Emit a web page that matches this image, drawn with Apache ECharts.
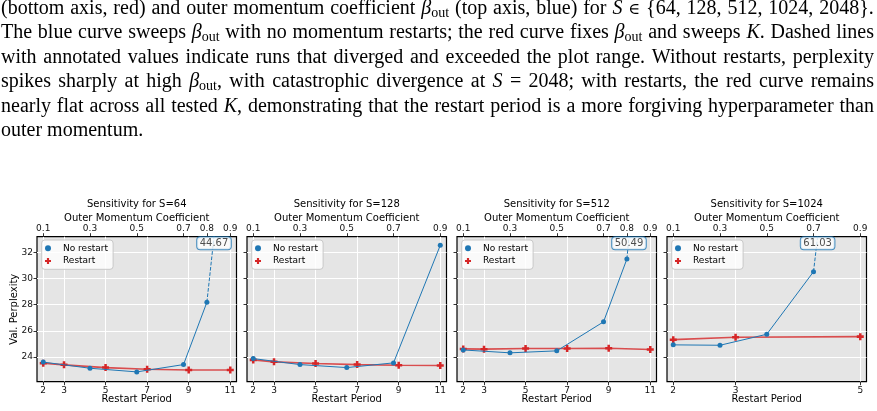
<!DOCTYPE html>
<html>
<head>
<meta charset="utf-8">
<script src="https://cdn.jsdelivr.net/npm/echarts@6/dist/echarts.min.js"></script>
<style>
html,body{margin:0;padding:0;background:#fff;}
#wrap{position:relative;width:877px;height:411px;overflow:hidden;}
#chart{position:absolute;left:0;top:0;width:877px;height:411px;}
#cap{position:absolute;left:1px;top:-5px;width:873px;font-family:'Liberation Serif','Times New Roman',serif;font-size:20px;line-height:24.4px;color:#000;z-index:2;}
#cap .ln{display:flex;justify-content:space-between;white-space:nowrap;height:24.4px;}
#cap .last{white-space:nowrap;height:24.4px;}
#cap i{font-style:italic;}
#cap .sb{font-size:14px;position:relative;top:3px;font-style:normal;}
#cap .op{font-family:'DejaVu Serif',serif;font-size:16px;}
</style>
</head>
<body>
<div id="wrap">
  <div id="chart"></div>
  <div id="cap"></div>
</div>
<script>
// ---------------- caption ----------------
const captionLines = [
  "(bottom axis, red) and outer momentum coefficient β_out (top axis, blue) for $S ∈ {64, 128, 512, 1024, 2048}.",
  "The blue curve sweeps β_out with no momentum restarts; the red curve fixes β_out and sweeps $K. Dashed lines",
  "with annotated values indicate runs that diverged and exceeded the plot range. Without restarts, perplexity",
  "spikes sharply at high β_out, with catastrophic divergence at $S = 2048; with restarts, the red curve remains",
  "nearly flat across all tested $K, demonstrating that the restart period is a more forgiving hyperparameter than",
  "outer momentum."
];

// ---------------- data ----------------
const yMin = 22.1;
const yMax = 33.2;
const yTicks = [24, 26, 28, 30, 32];

const titles = ['Sensitivity for S=64', 'Sensitivity for S=128', 'Sensitivity for S=512', 'Sensitivity for S=1024'];

const beta64 = [0.1, 0.3, 0.5, 0.7, 0.8, 0.9];
const noRestart64 = [23.60, 23.13, 22.85, 23.41, 28.18, 44.67];
const K64 = [2, 3, 5, 7, 9, 11];
const restart64 = [23.52, 23.39, 23.18, 23.05, 23.00, 23.00];

const beta128 = [0.1, 0.3, 0.5, 0.7, 0.9];
const noRestart128 = [23.87, 23.41, 23.18, 23.54, 32.54];
const K128 = [2, 3, 5, 7, 9, 11];
const restart128 = [23.77, 23.62, 23.49, 23.41, 23.36, 23.34];

const beta512 = [0.1, 0.3, 0.5, 0.7, 0.8, 0.9];
const noRestart512 = [24.53, 24.31, 24.46, 26.68, 31.49, 50.49];
const K512 = [2, 3, 5, 7, 9, 11];
const restart512 = [24.61, 24.59, 24.64, 24.64, 24.66, 24.56];

const beta1024 = [0.1, 0.3, 0.5, 0.7, 0.9];
const noRestart1024 = [24.92, 24.89, 25.73, 30.52, 61.03];
const K1024 = [2, 3, 5];
const restart1024 = [25.32, 25.50, 25.55];

// ---------------- caption render ----------------
function fmtWord(w) {
  return w.replace(/β_out/g, '<i>β</i><span class="sb">out</span>')
          .replace(/\$([SK])/g, '<i>$1</i>')
          .replace(/∈/g, '<span class="op">∈</span>');
}
const cap = document.getElementById('cap');
captionLines.forEach((line, idx) => {
  const d = document.createElement('div');
  const last = idx === captionLines.length - 1;
  d.className = last ? 'last' : 'ln';
  if (last) {
    d.innerHTML = fmtWord(line);
  } else {
    d.innerHTML = line.split(' ').map(w => '<span>' + fmtWord(w) + '</span>').join('');
  }
  cap.appendChild(d);
});

// ---------------- chart ----------------
const panels = [
  { title: titles[0], beta: beta64, noRestart: noRestart64, K: K64, restart: restart64 },
  { title: titles[1], beta: beta128, noRestart: noRestart128, K: K128, restart: restart128 },
  { title: titles[2], beta: beta512, noRestart: noRestart512, K: K512, restart: restart512 },
  { title: titles[3], beta: beta1024, noRestart: noRestart1024, K: K1024, restart: restart1024 }
];

const FONT = 'DejaVu Sans';
const BLUE = '#1f77b4';
const RED = '#d62728';
const PLUS = 'path://M3.2,0H6.8V3.2H10V6.8H6.8V10H3.2V6.8H0V3.2H3.2Z';
const gridTop = 236.7, gridW = 199.5, gridH = 145;

const option = {
  animation: false,
  backgroundColor: '#fff',
  textStyle: { fontFamily: FONT },
  title: [], grid: [], xAxis: [], yAxis: [], legend: [], series: []
};

function padRange(arr) {
  const lo = Math.min(...arr), hi = Math.max(...arr);
  const m = (hi - lo) / 30;
  return [lo - m, hi + m];
}

panels.forEach((p, i) => {
  const left = 37 + i * 210;
  option.title.push({
    text: p.title, left: left + gridW / 2, top: 199.5, textAlign: 'center', padding: 0,
    textStyle: { fontFamily: FONT, fontSize: 10, fontWeight: 'normal', color: '#000' }
  });
  option.grid.push({
    left: left, top: gridTop, width: gridW, height: gridH, show: true,
    backgroundColor: '#e5e5e5', borderColor: '#000', borderWidth: 1.2
  });
  const kr = padRange(p.K), br = padRange(p.beta);
  option.xAxis.push({
    type: 'value', gridIndex: i, position: 'bottom', min: kr[0], max: kr[1],
    axisLine: { show: false },
    axisTick: { show: true, customValues: p.K, length: 3.5, lineStyle: { color: '#000', width: 0.8 } },
    axisLabel: { customValues: p.K, margin: 4.5, fontSize: 9, color: '#111', fontFamily: FONT, formatter: v => String(v) },
    splitLine: { show: true, lineStyle: { color: '#fff', width: 1 } },
    name: 'Restart Period', nameLocation: 'middle', nameGap: 13, nameMoveOverlap: false,
    nameTextStyle: { fontFamily: FONT, fontSize: 10, color: '#000' }
  });
  option.xAxis.push({
    type: 'value', gridIndex: i, position: 'top', min: br[0], max: br[1],
    axisLine: { show: false },
    axisTick: { show: true, customValues: p.beta, length: 3.5, lineStyle: { color: '#000', width: 0.8 } },
    axisLabel: { customValues: p.beta, margin: 4, fontSize: 9, color: '#111', fontFamily: FONT, formatter: v => v.toFixed(1) },
    splitLine: { show: false },
    name: 'Outer Momentum Coefficient', nameLocation: 'middle', nameGap: 13, nameMoveOverlap: false,
    nameTextStyle: { fontFamily: FONT, fontSize: 10, color: '#000' }
  });
  option.yAxis.push({
    type: 'value', gridIndex: i, min: yMin, max: yMax,
    axisLine: { show: false },
    axisTick: { show: true, customValues: yTicks, length: 3.5, lineStyle: { color: '#000', width: 0.8 } },
    axisLabel: { show: i === 0, customValues: yTicks, margin: 4, fontSize: 9, color: '#111', fontFamily: FONT },
    splitLine: { show: true, lineStyle: { color: '#fff', width: 1 } },
    name: i === 0 ? 'Val. Perplexity' : '', nameLocation: 'middle', nameGap: 17.5, nameMoveOverlap: false,
    nameTextStyle: { fontFamily: FONT, fontSize: 10, color: '#000' }
  });
  option.legend.push({
    orient: 'vertical', left: left + 4.7, top: 240, selectedMode: false,
    data: [{ name: 'No restart', icon: 'circle' }, { name: 'Restart', icon: PLUS }],
    itemWidth: 20, itemHeight: 6, itemGap: 0.7,
    padding: [2.3, 5, 2.3, 3.3],
    backgroundColor: 'rgba(255,255,255,0.8)', borderColor: '#c8c8c8', borderWidth: 1, borderRadius: 3,
    textStyle: { fontFamily: FONT, fontSize: 9, color: '#000', lineHeight: 12 }
  });

  const vis = [], div = [];
  p.beta.forEach((b, j) => {
    const v = p.noRestart[j];
    if (v <= yMax) vis.push([b, v]); else div.push([b, v]);
  });
  const bx = 2 * i + 1, kx = 2 * i;
  option.series.push({
    name: 'Restart', type: 'line', xAxisIndex: kx, yAxisIndex: i,
    data: p.K.map((k, j) => [k, p.restart[j]]),
    symbol: PLUS, symbolSize: 7, itemStyle: { color: RED },
    lineStyle: { color: RED, width: 1.6, opacity: 0.8 }, z: 3
  });
  option.series.push({
    name: 'No restart', type: 'line', xAxisIndex: bx, yAxisIndex: i,
    data: vis, symbol: 'circle', symbolSize: 5, itemStyle: { color: BLUE },
    lineStyle: { color: BLUE, width: 1 }, z: 4
  });
  if (div.length) {
    const a = vis[vis.length - 1], b = div[0];
    option.series.push({
      name: 'No restart (diverged)', type: 'line', xAxisIndex: bx, yAxisIndex: i,
      data: [a, b], symbol: 'none', clip: true,
      lineStyle: { color: BLUE, width: 1, type: [3.7, 1.6] }, z: 4
    });
    const bc = a[0] + (yMax - a[1]) / (b[1] - a[1]) * (b[0] - a[0]);
    option.series.push({
      name: 'divergence label', type: 'scatter', xAxisIndex: bx, yAxisIndex: i,
      clip: false, symbolSize: 1, itemStyle: { color: 'rgba(0,0,0,0)' }, z: 6,
      data: [{ value: [bc, yMax], label: { formatter: b[1].toFixed(2) } }],
      label: {
        show: true, position: 'bottom', distance: 0,
        fontFamily: FONT, fontSize: 10, color: '#222',
        backgroundColor: '#fff', borderColor: BLUE, borderWidth: 1, borderRadius: 3,
        padding: [1.5, 2.5, 0.5, 2.5]
      }
    });
  }
});

const chart = echarts.init(document.getElementById('chart'));
chart.setOption(option);
</script>
</body>
</html>
